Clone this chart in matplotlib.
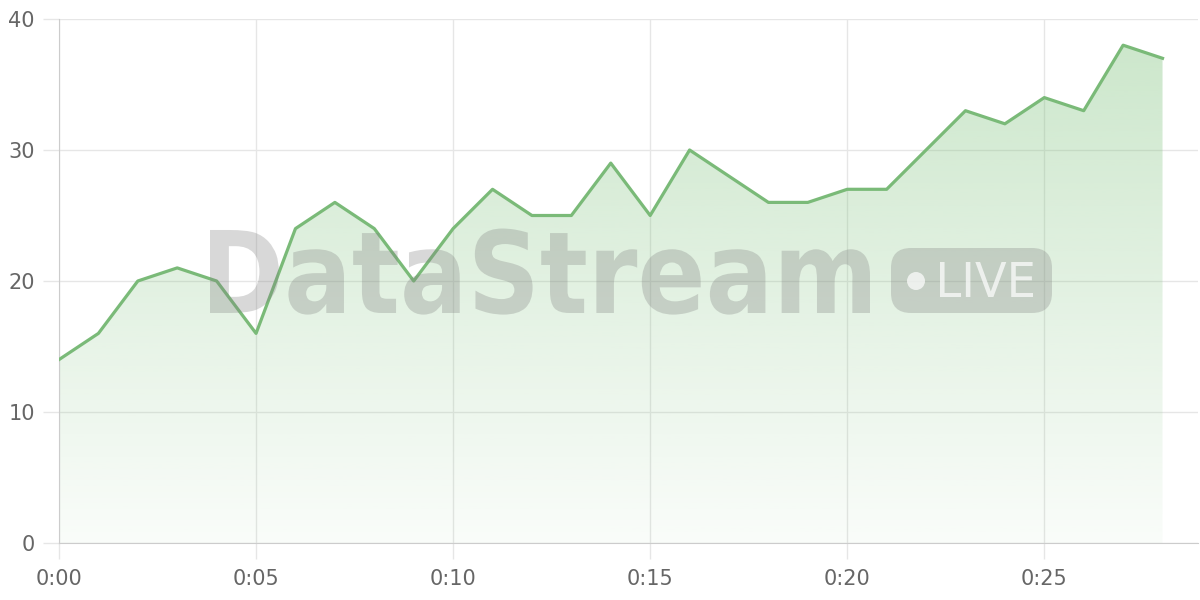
import matplotlib
matplotlib.use("Agg")
import matplotlib.pyplot as plt
import numpy as np
from matplotlib.patches import FancyBboxPatch, PathPatch, Circle
from matplotlib.textpath import TextPath
from matplotlib.font_manager import FontProperties
from matplotlib.transforms import Affine2D

# Data
seconds = list(range(29))
values = [14, 16, 20, 21, 20, 16, 24, 26, 24, 20, 24, 27, 25, 25, 29, 25,
          30, 28, 26, 26, 27, 27, 30, 33, 32, 34, 33, 38, 37]
x_ticks = [0, 5, 10, 15, 20, 25]
y_ticks = [0, 10, 20, 30, 40]

line_color = "#7aba78"
grid_color = "#e6e6e6"
text_color = "#666666"

fig = plt.figure(figsize=(12, 6), dpi=100)
ax = fig.add_axes([59 / 1200, 57 / 600, 1139 / 1200, 524 / 600])

ax.set_xlim(0, 28.9)
ax.set_ylim(0, 40)

# gradient fill under the line
fill = ax.fill_between(seconds, values, 0, color="none")
grad = np.linspace(0.04, 0.38, 256).reshape(-1, 1)
rgba = np.zeros((256, 1, 4))
rgba[..., 0] = 0x7a / 255
rgba[..., 1] = 0xc0 / 255
rgba[..., 2] = 0x78 / 255
rgba[..., 3] = grad
img = ax.imshow(rgba, extent=[0, 28, 0, max(values)], origin="lower",
                aspect="auto", zorder=1)
img.set_clip_path(fill.get_paths()[0], transform=ax.transData)

ax.plot(seconds, values, color=line_color, lw=2.3, zorder=3)

ax.set_xticks(x_ticks)
ax.set_xticklabels([f"{s // 60}:{s % 60:02d}" for s in x_ticks])
ax.set_yticks(y_ticks)
ax.grid(True, color=grid_color, lw=1)
ax.set_axisbelow(True)
for side in ["top", "right"]:
    ax.spines[side].set_visible(False)
for side in ["left", "bottom"]:
    ax.spines[side].set_color("#cccccc")
ax.tick_params(labelcolor=text_color, labelsize=15, length=11.5, width=1,
               color=grid_color)
ax.tick_params(axis="y", pad=6)
ax.tick_params(axis="x", pad=7)

# watermark, drawn in pixel coordinates on an overlay axes
ov = fig.add_axes([0, 0, 1, 1], zorder=10)
ov.set_xlim(0, 1200)
ov.set_ylim(600, 0)
ov.axis("off")
ov.patch.set_visible(False)

wm_grey = "#808080"
fp = FontProperties(family="DejaVu Sans", weight="bold")
tp = TextPath((0, 0), "DataStream", size=100, prop=fp)
bb = tp.get_extents()
sx = (870 - 210) / bb.width
sy = (313 - 230) / 72.9
tr = Affine2D().translate(-bb.x0, 0).scale(sx, -sy).translate(210, 313)
ov.add_patch(PathPatch(tr.transform_path(tp), facecolor=wm_grey,
                       edgecolor="none", alpha=0.3))

ov.add_patch(FancyBboxPatch((891, 248), 161, 65,
                            boxstyle="round,pad=0,rounding_size=20",
                            facecolor=wm_grey, edgecolor="none", alpha=0.3))
ov.add_patch(Circle((916, 281), 9, facecolor="white", edgecolor="none",
                    alpha=0.7))
tl = TextPath((0, 0), "LIVE", size=100,
              prop=FontProperties(family="DejaVu Sans"))
lb = tl.get_extents()
tr2 = Affine2D().translate(-lb.x0, 0).scale((1033 - 940) / lb.width,
                                             -(297 - 262) / 72.9)
tr2 = tr2.translate(940, 297)
ov.add_patch(PathPatch(tr2.transform_path(tl), facecolor="white",
                       edgecolor="none", alpha=0.7))

fig.savefig("out.png", dpi=100)
